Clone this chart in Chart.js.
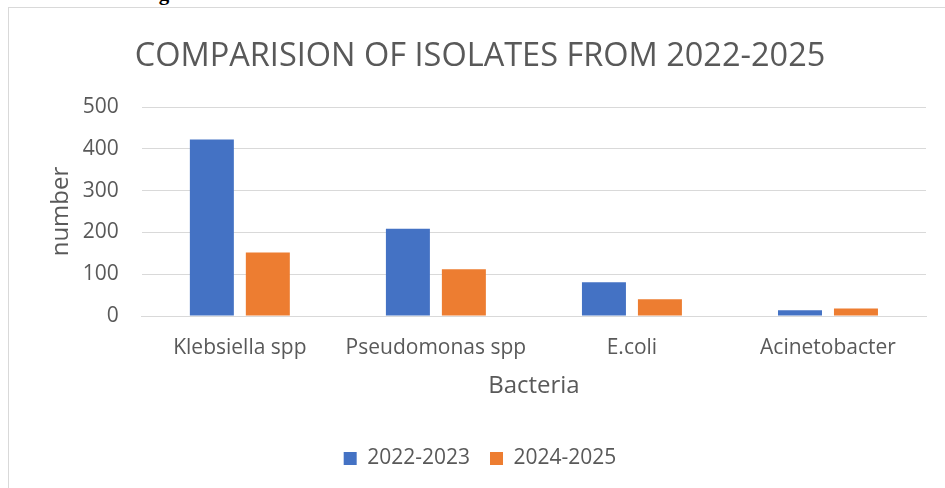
<!DOCTYPE html>
<html>
<head>
<meta charset="utf-8">
<script src="https://cdn.jsdelivr.net/npm/chart.js@4"></script>
<style>
  html, body { margin: 0; padding: 0; background: #fff; overflow: hidden; }
  body { width: 945px; height: 488px; position: relative; }
  .caption { position: absolute; left: 140px; top: -19px; font: bold 21px "Liberation Serif", serif; color: #000; white-space: nowrap; }
  .frame { position: absolute; left: 8px; top: 7px; width: 960px; height: 500px; border: 1px solid #d9d9d9; box-sizing: border-box; }
  .chart-box { position: absolute; left: 0; top: 0; width: 945px; height: 488px; }
</style>
</head>
<body>
<div class="caption">Figure 1: COMPARISON OF NUMBER OF ISOLATES FROM 2022-2025</div>
<div class="frame"></div>
<div class="chart-box"><canvas id="isolates-chart"></canvas></div>
<script>
/* Isolates comparison — grouped bar chart */
const bacteria = ['Klebsiella spp', 'Pseudomonas spp', 'E.coli', 'Acinetobacter'];
const isolates2223 = [422, 209, 81, 14];
const isolates2425 = [152, 112, 40, 18];
const yTicks = [0, 100, 200, 300, 400, 500];

const FONT = '"Open Sans", sans-serif';
const GREY = '#595959';

Chart.defaults.font.family = FONT;
Chart.defaults.color = GREY;

const ctx = document.getElementById('isolates-chart').getContext('2d');
const isolatesChart = new Chart(ctx, {
  type: 'bar',
  data: {
    labels: bacteria,
    datasets: [
      {
        label: '2022-2023',
        data: isolates2223,
        backgroundColor: '#4472c4',
        categoryPercentage: 0.571,
        barPercentage: 0.786
      },
      {
        label: '2024-2025',
        data: isolates2425,
        backgroundColor: '#ed7d31',
        categoryPercentage: 0.571,
        barPercentage: 0.786
      }
    ]
  },
  options: {
    responsive: true, maintainAspectRatio: false,
    animation: false,
    layout: { padding: { left: 34, right: 19, top: 37, bottom: 9 } },
    plugins: {
      title: {
        display: true,
        text: 'COMPARISION OF ISOLATES FROM 2022-2025',
        color: GREY,
        font: { size: 32.5, weight: 'normal' },
        padding: { top: 0, bottom: 31 }
      },
      legend: {
        position: 'bottom',
        labels: { color: GREY, font: { size: 21 }, boxWidth: 13, boxHeight: 13, padding: 20 }
      },
      tooltip: { enabled: false }
    },
    scales: {
      x: {
        grid: { display: false },
        border: { color: '#d9d9d9' },
        ticks: { color: GREY, font: { size: 21 }, padding: 11 },
        title: { display: true, text: 'Bacteria', color: GREY, font: { size: 24 }, padding: { top: 1, bottom: 27 } }
      },
      y: {
        min: 0, max: 500,
        afterBuildTicks: axis => { axis.ticks = yTicks.map(v => ({ value: v })); },
        grid: { color: '#d9d9d9', lineWidth: 1, drawTicks: false },
        border: { display: false },
        ticks: { color: GREY, font: { size: 21 }, padding: 23 },
        title: { display: true, text: 'number', color: GREY, font: { size: 24 }, padding: { top: 13, bottom: -16 } }
      }
    }
  }
});
</script>
</body>
</html>
